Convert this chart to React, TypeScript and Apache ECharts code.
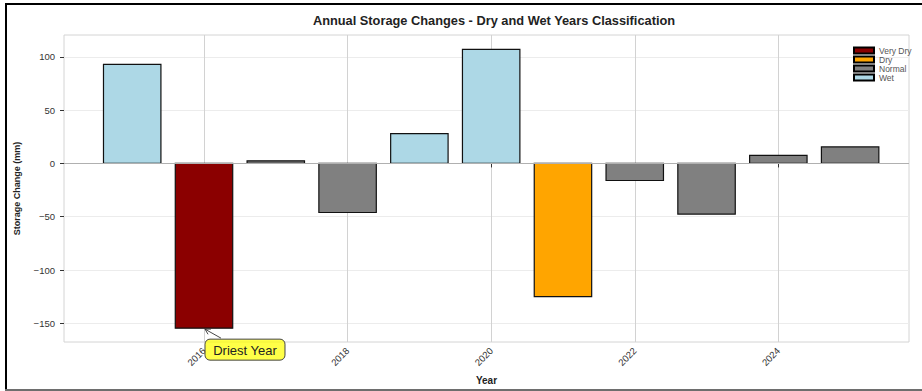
import { useEffect, useRef } from 'react';
import * as echarts from 'echarts';

// Annual storage change per year (mm) and its dry/wet class
const years = [2015, 2016, 2017, 2018, 2019, 2020, 2021, 2022, 2023, 2024, 2025];
const storageChange = [93, -154.5, 2.5, -46, 28, 107, -125, -16, -47.5, 7.5, 15.5];
const yearClass = ['Wet', 'Very Dry', 'Normal', 'Normal', 'Wet', 'Wet', 'Dry', 'Normal', 'Normal', 'Normal', 'Normal'];

const classNames = ['Very Dry', 'Dry', 'Normal', 'Wet'];
const classColors = ['#8b0000', '#ffa500', '#808080', '#add8e6'];

const xTickYears = [2016, 2018, 2020, 2022, 2024];
const yTickValues = [-150, -100, -50, 0, 50, 100];

const titleText = 'Annual Storage Changes - Dry and Wet Years Classification';
const driestLabel = 'Driest Year';

const FONT = '"Liberation Sans", Arial, sans-serif';
const BAR_WIDTH = 0.8;

export default function App() {
  const ref = useRef<HTMLDivElement>(null);

  useEffect(() => {
    if (!ref.current) return;
    const chart = echarts.init(ref.current, null, { renderer: 'svg' });

    const series: any[] = classNames.map((name, ci) => ({
      type: 'custom',
      name,
      itemStyle: { color: classColors[ci], borderColor: '#000', borderWidth: 1 },
      encode: { x: 0, y: 1 },
      data: years
        .map((y, i) => [y, storageChange[i]])
        .filter((_, i) => yearClass[i] === name),
      renderItem: (_params: any, api: any) => {
        const x = api.value(0);
        const v = api.value(1);
        const p0 = api.coord([x - BAR_WIDTH / 2, 0]);
        const p1 = api.coord([x + BAR_WIDTH / 2, v]);
        return {
          type: 'rect',
          shape: {
            x: p0[0],
            y: Math.min(p0[1], p1[1]),
            width: p1[0] - p0[0],
            height: Math.abs(p1[1] - p0[1]),
          },
          style: { fill: classColors[ci], stroke: '#111', lineWidth: 1.2 },
        };
      },
    }));

    // zero reference line
    series.push({
      type: 'line',
      name: 'zero',
      data: [],
      silent: true,
      z: 1,
      markLine: {
        silent: true,
        symbol: 'none',
        label: { show: false },
        lineStyle: { color: '#b0b0b0', width: 1.2, type: 'solid' },
        data: [{ yAxis: 0 }],
      },
    });

    chart.setOption({
      animation: false,
      backgroundColor: '#fff',
      textStyle: { fontFamily: FONT },
      title: {
        text: titleText,
        left: 489,
        top: 9,
        textAlign: 'center',
        textStyle: { fontFamily: FONT, fontSize: 12.8, fontWeight: 'bold', color: '#222' },
      },
      legend: {
        data: classNames,
        orient: 'vertical',
        left: 848,
        top: 41,
        itemWidth: 20,
        itemHeight: 6,
        itemGap: 0,
        icon: 'rect',
        textStyle: { fontFamily: FONT, fontSize: 8.5, lineHeight: 8, color: '#555', padding: [0, 0, 0, 0] },
      },
      grid: {
        left: 64,
        right: 13,
        top: 35,
        bottom: 49,
        show: true,
        borderColor: '#d4d4d4',
        borderWidth: 1,
        backgroundColor: 'transparent',
      },
      xAxis: {
        type: 'value',
        min: 2014.05,
        max: 2025.82,
        name: 'Year',
        nameLocation: 'middle',
        nameGap: 33,
        nameTextStyle: { fontFamily: FONT, fontSize: 10, fontWeight: 'bold', color: '#222' },
        axisLine: { show: false },
        axisTick: { show: true, customValues: xTickYears, length: 4, lineStyle: { color: '#333' } },
        axisLabel: {
          customValues: xTickYears,
          rotate: 45,
          fontSize: 9.5,
          color: '#333',
          margin: 7,
          fontFamily: FONT,
          formatter: (v: number) => String(v),
        },
        splitLine: { show: true, lineStyle: { color: '#d2d2d2', width: 1 } },
      },
      yAxis: {
        type: 'value',
        min: -167.5,
        max: 120.5,
        name: 'Storage Change (mm)',
        nameLocation: 'middle',
        nameGap: 43,
        nameTextStyle: { fontFamily: FONT, fontSize: 9, fontWeight: 'bold', color: '#222' },
        axisLine: { show: false },
        axisTick: { show: true, customValues: yTickValues, length: 4, lineStyle: { color: '#333' } },
        axisLabel: {
          customValues: yTickValues,
          fontSize: 9.5,
          color: '#333',
          margin: 9,
          fontFamily: FONT,
          formatter: (v: number) => (v < 0 ? '\u2212' + Math.abs(v) : String(v)),
        },
        splitLine: { show: true, lineStyle: { color: '#ececec', width: 1 } },
      },
      series,
    });

    // annotation pointing at the driest year's bar
    let iMin = 0;
    storageChange.forEach((v, i) => {
      if (v < storageChange[iMin]) iMin = i;
    });
    const tip = chart.convertToPixel({ gridIndex: 0 }, [years[iMin], storageChange[iMin]]) as number[];
    const tx = tip[0] + 1;
    const ty = tip[1] + 1;
    const sx = tx + 16;
    const sy = ty + 9;
    const dx = tx - sx;
    const dy = ty - sy;
    const len = Math.hypot(dx, dy);
    const ux = dx / len;
    const uy = dy / len;
    const headLen = 6;
    const ang = Math.PI / 6;
    const rot = (a: number) => [
      tx - headLen * (ux * Math.cos(a) - uy * Math.sin(a)),
      ty - headLen * (ux * Math.sin(a) + uy * Math.cos(a)),
    ];
    const boxX = tip[0] + 1;
    const boxY = tip[1] + 11;
    const boxW = 80;
    const boxH = 21;

    chart.setOption({
      graphic: [
        // outer frame
        { type: 'rect', shape: { x: 5, y: 3, width: 917, height: 2 }, style: { fill: '#000' }, silent: true },
        { type: 'rect', shape: { x: 5, y: 3, width: 2, height: 388 }, style: { fill: '#000' }, silent: true },
        { type: 'rect', shape: { x: 5, y: 389, width: 917, height: 2 }, style: { fill: '#6e6e6e' }, silent: true },
        {
          type: 'line',
          shape: { x1: sx, y1: sy, x2: tx, y2: ty },
          style: { stroke: '#333', lineWidth: 0.9 },
          z: 100,
        },
        {
          type: 'polyline',
          shape: { points: [rot(ang), [tx, ty], rot(-ang)] },
          style: { stroke: '#333', lineWidth: 0.9, fill: 'none' },
          z: 100,
        },
        {
          type: 'rect',
          shape: { x: boxX, y: boxY, width: boxW, height: boxH, r: 5 },
          style: { fill: 'rgba(255,255,0,0.72)', stroke: '#444', lineWidth: 1 },
          z: 100,
        },
        {
          type: 'text',
          x: boxX + boxW / 2,
          y: boxY + boxH / 2 + 0.5,
          style: {
            text: driestLabel,
            fontFamily: FONT,
            fontSize: 13,
            fill: '#222',
            align: 'center',
            verticalAlign: 'middle',
          },
          z: 101,
        },
      ],
    });

    return () => chart.dispose();
  }, []);

  return (
    <div
      ref={ref}
      style={{ position: 'absolute', left: 0, top: 0, width: 922, height: 391, background: '#fff' }}
    />
  );
}
